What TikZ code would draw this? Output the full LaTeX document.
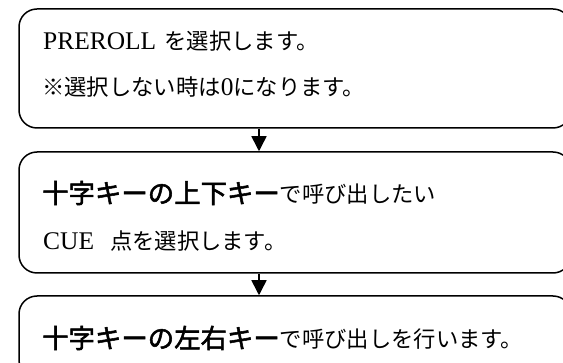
\documentclass[tikz,border=0pt]{standalone}
\usepackage{fontspec}
\setmainfont[Scale=1.06]{Liberation Serif}
\newfontfamily\cjk[Scale=0.93]{Noto Sans CJK JP}
\newfontfamily\cjkb[Scale=1.1, FakeBold=2]{Noto Sans CJK JP}
\usetikzlibrary{arrows.meta}
\tikzset{
  flowbox/.style={draw=black, line width=1.5pt, rounded corners=18pt, rectangle, inner sep=0pt},
  flowtxt/.style={anchor=base west, inner sep=0pt, font=\fontsize{24pt}{28pt}\selectfont},
  flowarrow/.style={draw=black, line width=1.5pt, -{Triangle[length=15pt,width=15pt]}}
}
\begin{document}
\begin{tikzpicture}[x=1pt,y=1pt]
\useasboundingbox (0,0) rectangle (563,-363);
\clip (0,0) rectangle (563,-363);
\node[flowbox, minimum width=552pt, minimum height=119pt] (box1) at (295,-68.5) {};
\node[flowbox, minimum width=552pt, minimum height=121pt] (box2) at (295,-212.5) {};
\node[flowbox, minimum width=552pt, minimum height=82pt] (box3) at (295,-337) {};
\coordinate (ax) at (259,0);
\draw[flowarrow] (box1.south -| ax) -- (box2.north -| ax);
\draw[flowarrow] (box2.south -| ax) -- (box3.north -| ax);
\node[flowtxt] (t1a) at (43,-50) {PREROLL\hspace{2pt} {\cjk を選択します。}};
\node[flowtxt] (t1b) at (42,-96) {{\cjk ※選択しない時は}0{\cjk になります。}};
\node[flowtxt] (t2a) at (42,-203) {{\cjkb 十字キーの上下キー}{\cjk で呼び出したい}};
\node[flowtxt] (t2b) at (43,-250) {CUE\hspace{16pt}{\cjk 点を選択します。}};
\node[flowtxt] (t3) at (42,-348) {{\cjkb 十字キーの左右キー}{\cjk で呼び出しを行います。}};
\end{tikzpicture}
\end{document}
